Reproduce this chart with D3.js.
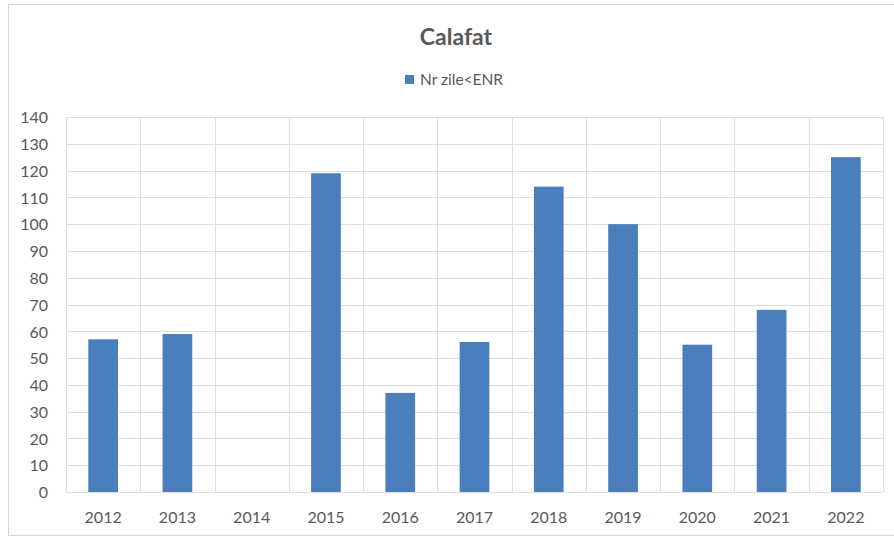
<!DOCTYPE html>
<html>
<head>
<meta charset="utf-8">
<script src="https://cdn.jsdelivr.net/npm/d3@7"></script>
<style>
  html, body { margin: 0; padding: 0; background: #fff; }
  svg { display: block; font-family: Lato, "Open Sans", sans-serif; }
</style>
</head>
<body>
<svg id="chart" width="894" height="537"></svg>
<script>
// Number of days below ENR, Calafat station
const years = ["2012", "2013", "2014", "2015", "2016", "2017", "2018", "2019", "2020", "2021", "2022"];
const days = [57, 59, 0, 119, 37, 56, 114, 100, 55, 68, 125];
const yTicks = [0, 10, 20, 30, 40, 50, 60, 70, 80, 90, 100, 110, 120, 130, 140];
const seriesName = "Nr zile<ENR";
const chartTitle = "Calafat";

const W = 894, H = 537;
const margin = { left: 66, right: 11, top: 117, bottom: 45 };
const textColor = "#595959";
const gridColor = "#dedede";
const barColor = "#4b7ebc";

const svg = d3.select("#chart");

// chart frame
svg.append("rect")
  .attr("x", 8.5).attr("y", 4.5)
  .attr("width", W + 10).attr("height", 531)
  .attr("fill", "#fff").attr("stroke", "#d4d4d4").attr("stroke-width", 1);

const x = d3.scaleBand()
  .domain(years)
  .range([margin.left, W - margin.right])
  .paddingInner(0.6).paddingOuter(0.3);

const xBand = d3.scaleBand().domain(years).range([margin.left, W - margin.right]);

const y = d3.scaleLinear()
  .domain([0, 140])
  .range([H - margin.bottom, margin.top]);

// horizontal gridlines
svg.append("g")
  .selectAll("line")
  .data(yTicks)
  .join("line")
  .attr("x1", margin.left).attr("x2", W - margin.right)
  .attr("y1", d => Math.round(y(d)) + 0.5).attr("y2", d => Math.round(y(d)) + 0.5)
  .attr("stroke", gridColor).attr("stroke-width", 1);

// vertical gridlines at category boundaries
const bounds = years.map(d => xBand(d)).concat([W - margin.right]);
svg.append("g")
  .selectAll("line")
  .data(bounds)
  .join("line")
  .attr("x1", d => Math.round(d) + 0.5).attr("x2", d => Math.round(d) + 0.5)
  .attr("y1", y(140)).attr("y2", y(0))
  .attr("stroke", gridColor).attr("stroke-width", 1);

// bars
svg.append("g")
  .selectAll("rect")
  .data(years.map((yr, i) => ({ yr, v: days[i] })))
  .join("rect")
  .attr("x", d => x(d.yr))
  .attr("y", d => y(d.v))
  .attr("width", x.bandwidth())
  .attr("height", d => y(0) - y(d.v))
  .attr("fill", barColor);

// y axis labels
const yAxis = d3.axisLeft(y).tickValues(yTicks).tickSize(0).tickPadding(0);
const gy = svg.append("g")
  .attr("transform", `translate(${margin.left - 18},0)`)
  .call(yAxis);
gy.select(".domain").remove();
gy.selectAll("text")
  .attr("fill", textColor)
  .style("font-size", "16px")
  .style("font-family", "Lato, sans-serif")
  .attr("dy", "0.36em");

// x axis labels
const xAxis = d3.axisBottom(xBand).tickSize(0).tickPadding(0);
const gx = svg.append("g")
  .attr("transform", `translate(0,${y(0) + 20})`)
  .call(xAxis);
gx.select(".domain").remove();
gx.selectAll("text")
  .attr("fill", textColor)
  .style("font-size", "16px")
  .style("font-family", "Lato, sans-serif")
  .attr("dy", "0.71em");

// title
svg.append("text")
  .attr("x", 456).attr("y", 45)
  .attr("text-anchor", "middle")
  .attr("fill", textColor)
  .style("font-size", "23px")
  .style("font-weight", "bold")
  .text(chartTitle);

// legend
const lg = svg.append("g").attr("transform", "translate(405,75)");
lg.append("rect").attr("width", 9).attr("height", 9).attr("fill", barColor);
lg.append("text")
  .attr("x", 15).attr("y", 10)
  .attr("fill", textColor)
  .style("font-size", "15.5px")
  .text(seriesName);
</script>
</body>
</html>
